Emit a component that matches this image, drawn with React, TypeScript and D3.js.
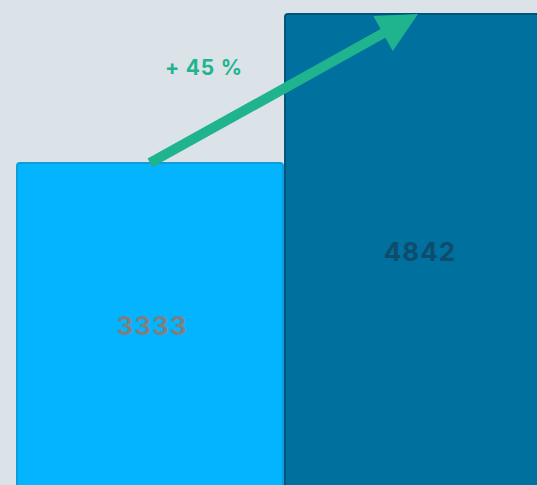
import React from "react";
import * as d3 from "d3";

const categories = ["Before", "After"];
const values = [3333, 4842];
const fills = ["#05B4FE", "#00709F"];
const strokes = ["#0C9ED8", "#00557A"];
const labelColors = ["#7F7F7F", "#0F4C6C"];

const W = 537;
const H = 485;

export default function App() {
  const x = d3.scaleBand<string>().domain(categories).range([17, 551]).paddingInner(0.0075);
  const y = d3.scaleLinear().domain([0, d3.max(values)!]).range([492, 14]);

  const x0 = x(categories[0])! + x.bandwidth() / 2;
  const y0 = y(values[0]);
  const x1 = x(categories[1])! + x.bandwidth() / 2;
  const y1 = y(values[1]);
  const dx = x1 - x0;
  const dy = y1 - y0;
  const len = Math.hypot(dx, dy);
  const ux = dx / len;
  const uy = dy / len;
  const px = -uy;
  const py = ux;
  const headL = 40;
  const headW = 20;
  const bx = x1 - ux * headL;
  const by = y1 - uy * headL;
  const head = [
    [x1, y1],
    [bx + px * headW, by + py * headW],
    [bx - px * headW, by - py * headW],
  ];
  const pct = Math.round(((values[1] - values[0]) / values[0]) * 100);

  return (
    <svg
      width={W}
      height={H}
      style={{ position: "absolute", left: 0, top: 0 }}
      fontFamily="Inter, 'DejaVu Sans', sans-serif"
    >
      <rect x={0} y={0} width={W} height={H} fill="#DBE3E9" />
      {categories.map((c, i) => (
        <g key={c}>
          <rect
            x={x(c)!}
            y={y(values[i])}
            width={x.bandwidth()}
            height={y(0) - y(values[i]) + 10}
            rx={3}
            fill={fills[i]}
            stroke={strokes[i]}
            strokeWidth={2}
          />
          <text
            x={x(c)! + x.bandwidth() / 2 + 2}
            y={(y(values[i]) + y(0)) / 2 - 2}
            textAnchor="middle"
            dominantBaseline="central"
            fontSize={26}
            fontWeight={700}
            letterSpacing={1}
            fill={labelColors[i]}
          >
            {values[i]}
          </text>
        </g>
      ))}
      <line
        x1={x0}
        y1={y0}
        x2={bx + ux * 4}
        y2={by + uy * 4}
        stroke="#20B48E"
        strokeWidth={10}
      />
      <polygon points={head.map((p) => p.join(",")).join(" ")} fill="#20B48E" />
      <text
        x={204}
        y={67}
        textAnchor="middle"
        dominantBaseline="central"
        fontSize={21}
        fontWeight={700}
        letterSpacing={0.8}
        fill="#22B48E"
      >
        {`+ ${pct} %`}
      </text>
    </svg>
  );
}
